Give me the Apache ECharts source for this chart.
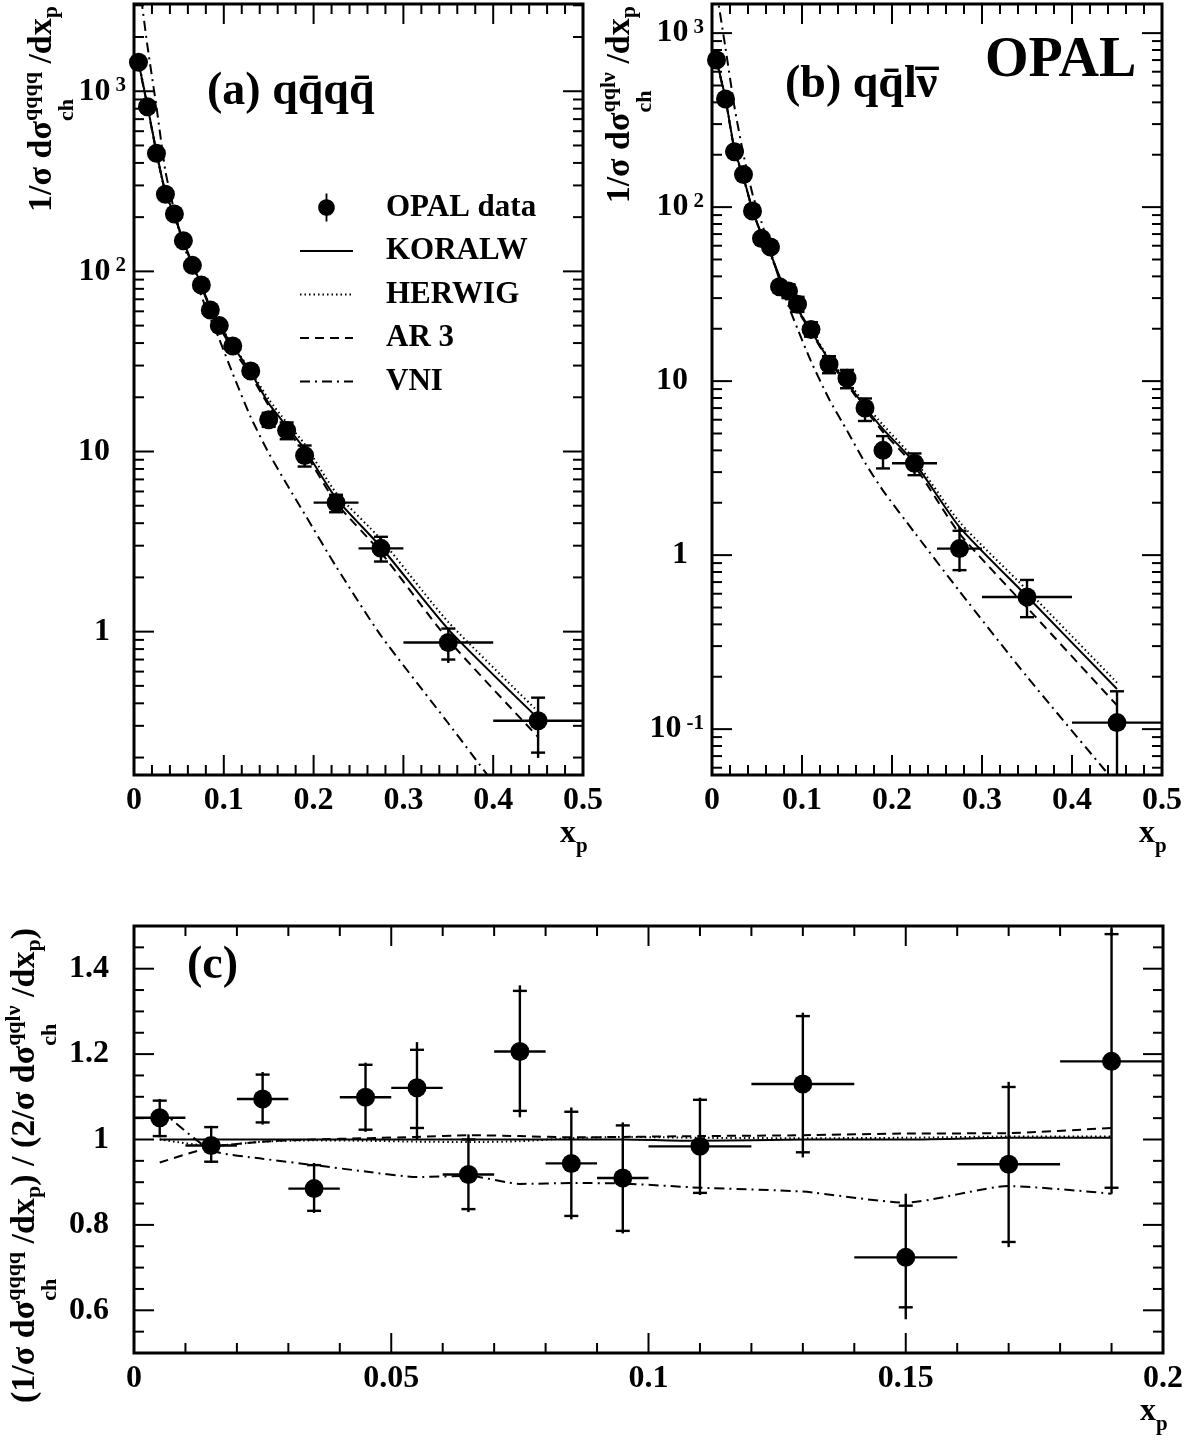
<!DOCTYPE html>
<html>
<head>
<meta charset="utf-8">
<title>OPAL x_p spectra</title>
<script src="https://cdn.jsdelivr.net/npm/echarts@6.0.0/dist/echarts.min.js"></script>
<style>
  html, body { margin: 0; padding: 0; background: #fff; }
  #chart { width: 1191px; height: 1441px; }
</style>
</head>
<body>
<div id="chart"></div>
<script>
// ---- bins (x_p) ----
var xp    = [0.005, 0.015, 0.025, 0.035, 0.045, 0.055, 0.065, 0.075, 0.085, 0.095, 0.11, 0.13, 0.15, 0.17, 0.19, 0.225, 0.275, 0.35, 0.45];
var binLo = [0, 0.01, 0.02, 0.03, 0.04, 0.05, 0.06, 0.07, 0.08, 0.09, 0.10, 0.12, 0.14, 0.16, 0.18, 0.20, 0.25, 0.30, 0.40];
var binHi = [0.01, 0.02, 0.03, 0.04, 0.05, 0.06, 0.07, 0.08, 0.09, 0.10, 0.12, 0.14, 0.16, 0.18, 0.20, 0.25, 0.30, 0.40, 0.50];

// ---- (a) qqqq ----
var dataA    = [1450, 820, 452, 268, 208, 148, 108, 84, 61, 50, 38.5, 28, 15.0, 13.1, 9.5, 5.2, 2.9, 0.87, 0.32];
var statLoA  = [1410, 795, 438, 259, 200, 142, 103, 80, 58, 47.5, 36.8, 26.6, 13.7, 11.7, 8.25, 4.6, 2.45, 0.70, 0.213];
var statHiA  = [1490, 845, 466, 277, 216, 154, 113, 88, 64, 52.5, 40.2, 29.4, 16.4, 14.5, 10.8, 5.75, 3.36, 1.04, 0.43];
var totLoA   = [1410, 795, 438, 259, 200, 142, 103, 80, 58, 47.5, 36.8, 26.6, 13.7, 11.7, 8.25, 4.6, 2.45, 0.67, 0.199];
var totHiA   = [1490, 845, 466, 277, 216, 154, 113, 88, 64, 52.5, 40.2, 29.4, 16.4, 14.5, 10.8, 5.75, 3.36, 1.04, 0.43];
var koralwA  = [1450, 830, 460, 275, 205, 148, 110, 84, 63, 50, 38.5, 27.5, 18.5, 13.8, 10.3, 5.5, 2.95, 1.03, 0.33];
var herwigA  = [1470, 840, 455, 270, 200, 145, 108, 83, 63, 51, 39, 28, 19.5, 14.5, 11.0, 5.9, 3.25, 1.13, 0.36];
var ar3A     = [1430, 820, 455, 275, 203, 146, 108, 82, 62, 49, 37, 26.5, 18, 13.3, 9.9, 5.2, 2.75, 0.9, 0.26];
var vniA     = [4300, 1780, 820, 360, 215, 142, 102, 73, 55, 42, 27, 15.5, 9.8, 6.6, 4.5, 2.3, 0.95, 0.31, 0.068];

// ---- (b) qqlv ----
var dataB    = [700, 418, 208, 154, 95, 66, 59, 34.9, 33, 27.7, 19.8, 12.5, 10.4, 7.0, 4.0, 3.37, 1.09, 0.575, 0.109];
var statLoB  = [680, 405, 201, 148, 91, 63, 56, 32.5, 30, 25, 18, 11.1, 9.1, 5.9, 3.15, 2.88, 0.82, 0.44, 0.03];
var statHiB  = [720, 431, 215, 160, 99, 69, 62, 37.3, 36, 30.5, 21.8, 13.9, 11.6, 7.95, 4.83, 3.84, 1.38, 0.72, 0.165];
var totLoB   = [680, 405, 201, 148, 91, 63, 56, 32.5, 30, 25, 18, 11.1, 9.1, 5.9, 3.15, 2.88, 0.80, 0.44, 0.03];
var totHiB   = [720, 431, 215, 160, 99, 69, 62, 37.3, 36, 30.5, 21.8, 13.9, 11.6, 7.95, 4.83, 3.84, 1.45, 0.72, 0.165];
var koralwB  = [700, 420, 215, 148, 97, 70, 54, 40, 32, 26, 19.5, 13.2, 9.8, 7.1, 5.3, 3.4, 1.45, 0.58, 0.17];
var herwigB  = [710, 425, 212, 146, 96, 69, 53, 40, 32, 26, 19.7, 13.5, 10.1, 7.4, 5.6, 3.55, 1.55, 0.63, 0.185];
var ar3B     = [690, 415, 212, 147, 96, 69, 54, 39, 31, 25.5, 19.2, 13, 9.6, 6.9, 5.1, 3.25, 1.33, 0.5, 0.137];
var vniB     = [1750, 820, 375, 200, 119, 82, 56, 38, 27, 20, 13, 7.9, 5.2, 3.4, 2.35, 1.35, 0.62, 0.2, 0.048];

// ---- (c) ratio qqqq / 2 qqlv (first 15 bins) ----
var ratioC   = [1.051, 0.986, 1.095, 0.885, 1.099, 1.121, 0.918, 1.206, 0.944, 0.910, 0.984, 1.130, 0.724, 0.942, 1.183];
var statLoC  = [1.008, 0.948, 1.040, 0.833, 1.023, 1.027, 0.837, 1.067, 0.821, 0.786, 0.875, 0.970, 0.607, 0.760, 0.887];
var statHiC  = [1.091, 1.029, 1.152, 0.940, 1.175, 1.210, 1.000, 1.348, 1.065, 1.033, 1.093, 1.289, 0.845, 1.123, 1.481];
var totLoC   = [1.005, 0.945, 1.035, 0.828, 1.018, 1.000, 0.830, 1.052, 0.813, 0.780, 0.870, 0.958, 0.579, 0.748, 0.873];
var totHiC   = [1.095, 1.032, 1.158, 0.945, 1.180, 1.228, 1.012, 1.361, 1.075, 1.040, 1.098, 1.297, 0.873, 1.135, 1.494];
var koralwC  = [1.0, 1.0, 1.0, 1.0, 1.0, 1.0, 1.0, 1.0, 1.0, 1.0, 0.997, 1.0, 1.0, 1.004, 1.004];
var herwigC  = [1.0, 0.985, 0.995, 0.998, 0.997, 0.995, 0.994, 0.996, 1.003, 1.006, 1.004, 1.003, 1.004, 1.007, 1.007];
var ar3C     = [0.946, 0.982, 0.995, 1.0, 1.003, 1.006, 1.01, 1.008, 1.005, 1.006, 1.008, 1.01, 1.014, 1.015, 1.027];
var vniC     = [1.071, 0.975, 0.955, 0.94, 0.925, 0.912, 0.915, 0.896, 0.898, 0.897, 0.887, 0.878, 0.852, 0.891, 0.873];

// ---- axis ranges and ticks ----
var rangeA = [0.16, 3050];
var rangeB = [0.0545, 1470];
var rangeC = [0.5, 1.5];
var xMajAB = [0.1, 0.2, 0.3, 0.4];
var xMinAB = [0.02, 0.04, 0.06, 0.08, 0.12, 0.14, 0.16, 0.18, 0.22, 0.24, 0.26, 0.28, 0.32, 0.34, 0.36, 0.38, 0.42, 0.44, 0.46, 0.48];
var yMajA = [1, 10, 100, 1000];
var yMajB = [0.1, 1, 10, 100, 1000];
var xMajC = [0.05, 0.1, 0.15];
var xMinC = [0.01, 0.02, 0.03, 0.04, 0.06, 0.07, 0.08, 0.09, 0.11, 0.12, 0.13, 0.14, 0.16, 0.17, 0.18, 0.19];
var yMajC = [0.6, 0.8, 1.0, 1.2, 1.4];
var yMinC = [0.55, 0.65, 0.7, 0.75, 0.85, 0.9, 0.95, 1.05, 1.1, 1.15, 1.25, 1.3, 1.35, 1.45];

var FONT = 'Liberation Serif';

// 2..9 x 10^k minor ticks inside a log range
function logMinor(lo, hi) {
    var out = [];
    for (var k = -2; k <= 4; k++) {
        for (var m = 2; m <= 9; m++) {
            var v = m * Math.pow(10, k);
            if (v > lo && v < hi) out.push(v);
        }
    }
    return out;
}

function pairs(xs, ys) {
    return ys.map(function (y, i) { return [xs[i], y]; });
}

function errRows(ys, sLo, sHi, tLo, tHi) {
    return ys.map(function (y, i) {
        return [xp[i], y, binLo[i], binHi[i], sLo[i], sHi[i], tLo[i], tHi[i]];
    });
}

function tickRows(xMaj, xMin, yMaj, yMin, xRef, yRef) {
    var rows = [];
    xMaj.forEach(function (v) { rows.push([v, yRef, 0, 20]); });
    xMin.forEach(function (v) { rows.push([v, yRef, 0, 10]); });
    yMaj.forEach(function (v) { rows.push([xRef, v, 1, 20]); });
    yMin.forEach(function (v) { rows.push([xRef, v, 1, 10]); });
    return rows;
}

// ticks on all four sides of the frame (ROOT style)
function renderTicks(params, api) {
    var cs = params.coordSys;
    var p = api.coord([api.value(0), api.value(1)]);
    var len = api.value(3);
    var st = { stroke: '#000', lineWidth: 2 };
    if (api.value(2) === 0) {
        return { type: 'group', children: [
            { type: 'line', shape: { x1: p[0], y1: cs.y + cs.height, x2: p[0], y2: cs.y + cs.height - len }, style: st },
            { type: 'line', shape: { x1: p[0], y1: cs.y, x2: p[0], y2: cs.y + len }, style: st }
        ] };
    }
    return { type: 'group', children: [
        { type: 'line', shape: { x1: cs.x, y1: p[1], x2: cs.x + len, y2: p[1] }, style: st },
        { type: 'line', shape: { x1: cs.x + cs.width, y1: p[1], x2: cs.x + cs.width - len, y2: p[1] }, style: st }
    ] };
}

function renderErr(params, api) {
    var x = api.value(0), y = api.value(1);
    var c = api.coord([x, y]);
    var l = api.coord([api.value(2), y]), r = api.coord([api.value(3), y]);
    var s1 = api.coord([x, api.value(4)]), s2 = api.coord([x, api.value(5)]);
    var t1 = api.coord([x, api.value(6)]), t2 = api.coord([x, api.value(7)]);
    var st = { stroke: '#000', lineWidth: 2.4 };
    var h = 7;
    return { type: 'group', children: [
        { type: 'line', shape: { x1: c[0], y1: t1[1], x2: c[0], y2: t2[1] }, style: st },
        { type: 'line', shape: { x1: l[0], y1: c[1], x2: r[0], y2: c[1] }, style: st },
        { type: 'line', shape: { x1: c[0] - h, y1: s1[1], x2: c[0] + h, y2: s1[1] }, style: st },
        { type: 'line', shape: { x1: c[0] - h, y1: s2[1], x2: c[0] + h, y2: s2[1] }, style: st }
    ] };
}

var lineStyles = {
    'KORALW': { type: 'solid', width: 2 },
    'HERWIG': { type: [1.5, 3], width: 2 },
    'AR 3':   { type: [9, 6], width: 2 },
    'VNI':    { type: [10, 5, 2, 5], width: 2 }
};

function panelSeries(idx, xs, models, errs, pts, ticks) {
    var list = [];
    Object.keys(models).forEach(function (name) {
        list.push({
            type: 'line', name: name, xAxisIndex: idx, yAxisIndex: idx,
            data: pairs(xs, models[name]), symbol: 'none', clip: true, z: 2, smooth: 0.2,
            itemStyle: { color: '#000' },
            lineStyle: { color: '#000', width: lineStyles[name].width, type: lineStyles[name].type }
        });
    });
    list.push({ type: 'custom', xAxisIndex: idx, yAxisIndex: idx, renderItem: renderErr,
        data: errs, clip: true, z: 3, silent: true });
    list.push({ type: 'scatter', name: 'OPAL data', xAxisIndex: idx, yAxisIndex: idx,
        data: pts, symbol: 'circle', symbolSize: 19, itemStyle: { color: '#000', opacity: 1 }, z: 4 });
    list.push({ type: 'custom', xAxisIndex: idx, yAxisIndex: idx, renderItem: renderTicks,
        data: ticks, clip: false, z: 5, silent: true });
    return list;
}

var logLabel = {
    margin: 8,
    formatter: function (v) {
        var lg = Math.log10(v), e = Math.round(lg);
        if (Math.abs(lg - e) > 1e-6) return '';
        if (e === 0) return '{n|1}{sp| }';
        if (e === 1) return '{n|10}{sp| }';
        return '{n|10}{s|' + e + '}';
    },
    rich: {
        n: { fontSize: 32, fontWeight: 'bold', fontFamily: FONT, color: '#000', lineHeight: 32, padding: [13, 0, 0, 0], verticalAlign: 'bottom' },
        s: { fontSize: 21, fontWeight: 'bold', fontFamily: FONT, color: '#000', lineHeight: 21, padding: [0, 0, 0, 5], verticalAlign: 'top' },
        sp: { fontSize: 21, width: 16 }
    }
};
var numLabel = { fontSize: 32, fontWeight: 'bold', fontFamily: FONT, color: '#000', margin: 10 };

function xAxisOf(idx, max, interval) {
    return { type: 'value', gridIndex: idx, min: 0, max: max, interval: interval,
        axisLine: { show: false }, axisTick: { show: false }, splitLine: { show: false },
        axisLabel: numLabel };
}

// rotated ROOT-like axis title with stacked super/subscripts
var measureCtx = document.createElement('canvas').getContext('2d');
function textWidth(t, size) {
    measureCtx.font = 'bold ' + size + 'px "' + FONT + '"';
    return measureCtx.measureText(t).width;
}
function yTitle(parts, cx, anchorY, fromTop) {
    var cursor = 0, kids = [];
    parts.forEach(function (p) {
        var items = Array.isArray(p) ? [p] : p.stack;
        var adv = 0;
        items.forEach(function (it) {
            adv = Math.max(adv, textWidth(it[0], it[1]));
            kids.push({ type: 'text', x: cursor, y: it[2],
                style: { text: it[0], fontSize: it[1], fontWeight: 'bold', fontFamily: FONT, fill: '#000', verticalAlign: 'middle' } });
        });
        cursor += adv;
    });
    return { type: 'group', x: cx, y: fromTop ? anchorY + cursor : anchorY, rotation: Math.PI / 2, children: kids };
}

function label(text, x, y, size, align) {
    return { type: 'text', x: x, y: y,
        style: { text: text, fontSize: size, fontWeight: 'bold', fontFamily: FONT, fill: '#000', align: align || 'left', verticalAlign: 'middle' } };
}

function xpLabel(right, yMid) {
    return [label('x', right - 7, yMid, 32, 'right'), label('p', right - 7, yMid + 13, 21, 'left')];
}

// "(b) qq̄lν̄": macron over nu placed by hand since the combining mark lands off-centre
function labelB(x, y, size) {
    var head = '(b) qq̄l';
    var w = textWidth(head, size), wn = textWidth('ν', size);
    return [
        label(head + 'ν', x, y, size),
        label('\u00af', x + w + wn / 2, y + 5, size, 'center')
    ];
}

var supQ = { stack: [['qqqq', 22, -11], ['ch', 22, 25]] };
var supL = { stack: [['qqlν', 22, -11], ['ch', 22, 25]] };
var hideSym = { color: 'rgba(0,0,0,0)', borderWidth: 0, opacity: 0 };

var chart = echarts.init(document.getElementById('chart'));
chart.setOption({
    animation: false,
    backgroundColor: '#fff',
    textStyle: { fontFamily: FONT },
    grid: [
        { left: 134, top: 4, width: 449, height: 771, show: true, borderColor: '#000', borderWidth: 3 },
        { left: 712, top: 4, width: 450, height: 771, show: true, borderColor: '#000', borderWidth: 3 },
        { left: 134, top: 926, width: 1029, height: 427, show: true, borderColor: '#000', borderWidth: 3 }
    ],
    xAxis: [xAxisOf(0, 0.5, 0.1), xAxisOf(1, 0.5, 0.1), xAxisOf(2, 0.2, 0.05)],
    yAxis: [
        { type: 'log', logBase: 10, gridIndex: 0, min: rangeA[0], max: rangeA[1],
          axisLine: { show: false }, axisTick: { show: false }, splitLine: { show: false }, axisLabel: logLabel },
        { type: 'log', logBase: 10, gridIndex: 1, min: rangeB[0], max: rangeB[1],
          axisLine: { show: false }, axisTick: { show: false }, splitLine: { show: false }, axisLabel: logLabel },
        { type: 'value', gridIndex: 2, min: rangeC[0], max: rangeC[1], interval: 0.1,
          axisLine: { show: false }, axisTick: { show: false }, splitLine: { show: false },
          axisLabel: { fontSize: 32, fontWeight: 'bold', fontFamily: FONT, color: '#000', margin: 25,
              formatter: function (v) {
                  var k = Math.round(v * 10);
                  return (k % 2 === 0 && k >= 6 && k <= 14) ? String(k / 10) : '';
              } } }
    ],
    legend: {
        data: [
            { name: 'OPAL data', icon: 'path://M9,0L11,0L11,6.06A9,9,0,0,1,11,23.94L11,30L9,30L9,23.94A9,9,0,0,1,9,6.06Z' },
            { name: 'KORALW', itemStyle: hideSym },
            { name: 'HERWIG', itemStyle: hideSym },
            { name: 'AR 3', itemStyle: hideSym },
            { name: 'VNI', itemStyle: hideSym }
        ],
        orient: 'vertical', left: 294, top: 187, itemWidth: 53, itemHeight: 28, itemGap: 12.5,
        selectedMode: false,
        textStyle: { fontSize: 31, fontWeight: 'bold', fontFamily: FONT, color: '#000', padding: [0, 0, 0, 28] }
    },
    graphic: [
        yTitle([['1/σ dσ', 34, 0], supQ, [' /dx', 34, 0], ['p', 22, 9]], 42, 6, true),
        yTitle([['1/σ dσ', 34, 0], supL, [' /dx', 34, 0], ['p', 22, 9]], 620, 6, true),
        yTitle([['(1/σ dσ', 34, 0], supQ, [' /dx', 34, 0], ['p', 22, 9], [') / (2/σ dσ', 34, 0], supL,
                [' /dx', 34, 0], ['p', 22, 9], [')', 34, 0]], 25, 1403, false),
        label('(a) qq̄qq̄', 207, 92, 46),
        label('OPAL', 985, 62, 56),
        label('(c)', 187, 966, 46)
    ].concat(labelB(785, 85, 46), xpLabel(583, 834), xpLabel(1162, 834), xpLabel(1163, 1412)),
    series: [].concat(
        panelSeries(0, xp, { 'KORALW': koralwA, 'HERWIG': herwigA, 'AR 3': ar3A, 'VNI': vniA },
            errRows(dataA, statLoA, statHiA, totLoA, totHiA), pairs(xp, dataA),
            tickRows(xMajAB, xMinAB, yMajA, logMinor(rangeA[0], rangeA[1]), 0, rangeA[0])),
        panelSeries(1, xp, { 'KORALW': koralwB, 'HERWIG': herwigB, 'AR 3': ar3B, 'VNI': vniB },
            errRows(dataB, statLoB, statHiB, totLoB, totHiB), pairs(xp, dataB),
            tickRows(xMajAB, xMinAB, yMajB, logMinor(rangeB[0], rangeB[1]), 0, rangeB[0])),
        panelSeries(2, xp, { 'KORALW': koralwC, 'HERWIG': herwigC, 'AR 3': ar3C, 'VNI': vniC },
            errRows(ratioC, statLoC, statHiC, totLoC, totHiC), pairs(xp, ratioC),
            tickRows(xMajC, xMinC, yMajC, yMinC, 0, rangeC[0]))
    )
});
</script>
</body>
</html>
